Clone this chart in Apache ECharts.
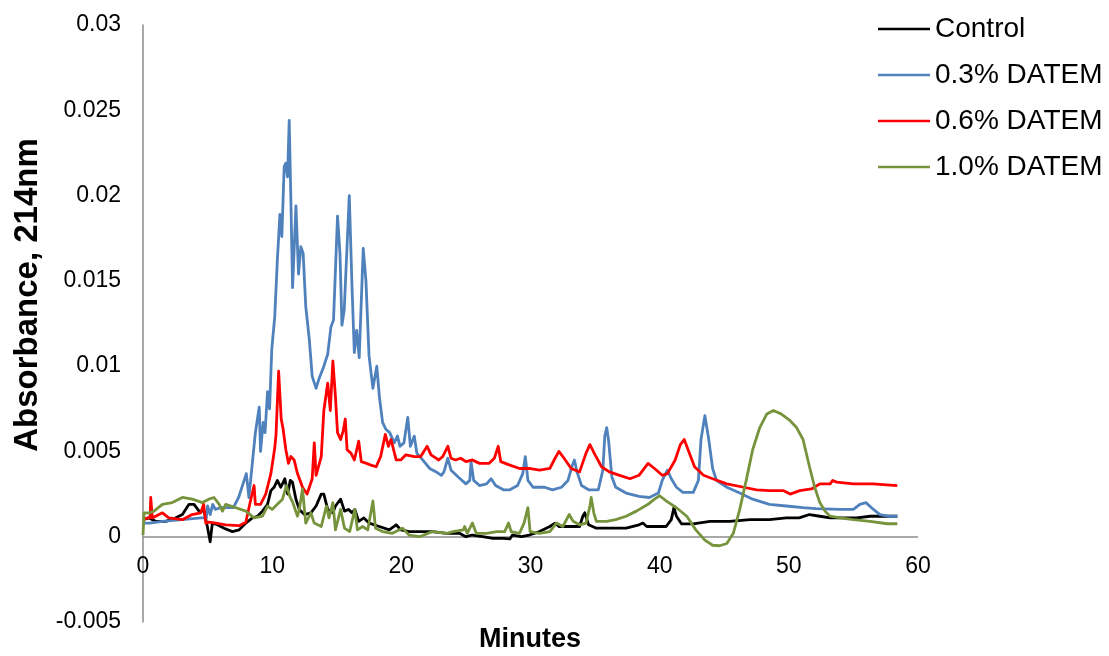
<!DOCTYPE html>
<html>
<head>
<meta charset="utf-8">
<script src="https://cdn.jsdelivr.net/npm/echarts@6/dist/echarts.min.js"></script>
<style>
  html, body { margin: 0; padding: 0; background: #fff; }
  #chart { width: 1109px; height: 656px; }
</style>
</head>
<body>
<div id="chart"></div>
<script>
// series names (legend order)
const seriesNames = ['Control', '0.3% DATEM', '0.6% DATEM', '1.0% DATEM'];
const seriesColors = ['#000000', '#4F81BD', '#FF0000', '#77933C'];

// [minutes, absorbance]
const control = [
    [0, 0.0010], [0.47, 0.0011], [0.98, 0.0009], [1.76, 0.0009], [2.5, 0.0011], [3.05, 0.0013], [3.56, 0.0019],
    [3.95, 0.0019], [4.34, 0.0015], [4.73, 0.0015], [4.98, 0.0006], [5.2, -0.0003], [5.37, 0.0008], [5.76, 0.0007],
    [6.28, 0.0005], [6.92, 0.0003], [7.44, 0.0004], [7.96, 0.0008], [8.47, 0.0011], [8.86, 0.0012], [9.25, 0.0015],
    [9.64, 0.0019], [9.9, 0.0027], [10.15, 0.0029], [10.4, 0.0033], [10.67, 0.0029], [10.98, 0.0034], [11.2, 0.0025],
    [11.4, 0.0033], [11.57, 0.0032], [11.84, 0.0022], [12.1, 0.0016], [12.5, 0.0013], [13.0, 0.0014], [13.4, 0.0018],
    [13.8, 0.0025], [14.0, 0.0025], [14.3, 0.0016], [14.7, 0.0014], [14.9, 0.0018], [15.3, 0.0022], [15.6, 0.0015],
    [15.9, 0.0016], [16.2, 0.0014], [16.4, 0.0016], [16.7, 0.0009], [17.1, 0.0011], [17.5, 0.0008], [18.3, 0.0006],
    [19.07, 0.0004], [19.6, 0.0007], [19.96, 0.0004], [20.6, 0.0003], [21.4, 0.0003], [22.4, 0.0003], [23.5, 0.0002],
    [24.5, 0.0002], [25.0, 0.0], [25.5, 0.0001], [26.3, 0.0], [27.1, -0.0001], [27.9, -0.0001], [28.4, -0.00013],
    [28.6, 0.0001], [29.3, 0.0], [29.9, 0.0001], [30.7, 0.0003], [31.5, 0.0006], [31.9, 0.0008], [32.2, 0.0006],
    [33.0, 0.0006], [33.8, 0.0006], [34.05, 0.0012], [34.2, 0.0014], [34.5, 0.0007], [35.1, 0.0005], [36.1, 0.0005],
    [37.4, 0.0005], [38.4, 0.0007], [38.7, 0.0008], [39.0, 0.0006], [39.7, 0.0006], [40.5, 0.0006], [40.9, 0.001],
    [41.1, 0.0017], [41.3, 0.0012], [41.7, 0.00075], [42.6, 0.00075], [43.9, 0.0009], [45.4, 0.0009], [47.0, 0.001],
    [48.5, 0.001], [49.8, 0.0011], [50.8, 0.0011], [51.6, 0.0013], [52.4, 0.0012], [53.2, 0.0011], [55.25, 0.0011],
    [56.3, 0.0012], [58.4, 0.0012]
];

const datem03 = [
    [0, 0.0008], [0.5, 0.0008], [1.5, 0.0009], [3.0, 0.001], [4.5, 0.0011], [4.9, 0.0011], [5.0, 0.0018], [5.2, 0.0013],
    [5.4, 0.0019], [5.6, 0.0016], [6.0, 0.0017], [7.0, 0.0017], [7.4, 0.0023], [8.0, 0.0037], [8.2, 0.0023], [8.7, 0.0061],
    [9.0, 0.0076], [9.1, 0.005], [9.3, 0.0067], [9.45, 0.0061], [9.64, 0.0085], [9.8, 0.0075], [9.97, 0.011], [10.2, 0.0129],
    [10.4, 0.0162], [10.6, 0.0189], [10.75, 0.0176], [10.93, 0.0217], [11.06, 0.0219], [11.19, 0.0211], [11.32, 0.0244],
    [11.45, 0.0197], [11.58, 0.0146], [11.7, 0.0168], [11.84, 0.0194], [12.04, 0.0154], [12.22, 0.017], [12.4, 0.0166],
    [12.6, 0.0135], [12.87, 0.0116], [13.1, 0.0094], [13.4, 0.0087], [13.6, 0.0092], [14.0, 0.0100], [14.3, 0.0107],
    [14.55, 0.0123], [14.75, 0.0127], [15.06, 0.0188], [15.25, 0.0166], [15.4, 0.0124], [15.58, 0.0133], [15.97, 0.0200],
    [16.18, 0.0147], [16.36, 0.0108], [16.54, 0.0121], [16.74, 0.0105], [17.05, 0.0169], [17.26, 0.015], [17.5, 0.0106],
    [17.8, 0.0087], [18.1, 0.0100], [18.3, 0.0082], [18.55, 0.0067], [18.8, 0.0063], [19.1, 0.0061], [19.45, 0.0055],
    [19.7, 0.0059], [19.9, 0.0053], [20.2, 0.0055], [20.5, 0.0070], [20.7, 0.0053], [21.0, 0.0059], [21.2, 0.0049],
    [21.65, 0.0045], [22.2, 0.0040], [22.7, 0.0038], [23.1, 0.0036], [23.3, 0.0038], [23.6, 0.0046], [23.85, 0.0039],
    [24.4, 0.0035], [25.0, 0.0031], [25.3, 0.0033], [25.4, 0.0044], [25.6, 0.0033], [26.05, 0.0030], [26.6, 0.0031],
    [26.95, 0.0034], [27.3, 0.0030], [27.9, 0.00275], [28.4, 0.00275], [29.0, 0.0030], [29.4, 0.0037], [29.6, 0.0047],
    [29.8, 0.0033], [30.2, 0.0029], [31.1, 0.0029], [31.7, 0.00275], [32.4, 0.0029], [32.9, 0.0033], [33.2, 0.0041],
    [33.4, 0.0045], [33.6, 0.0038], [33.95, 0.0030], [34.5, 0.00275], [35.25, 0.00275], [35.6, 0.0039], [35.75, 0.0059],
    [35.9, 0.0064], [36.05, 0.0056], [36.3, 0.0035], [36.6, 0.0029], [37.4, 0.00256], [38.4, 0.00236], [39.2, 0.0023],
    [39.9, 0.00256], [40.2, 0.0033], [40.6, 0.0039], [40.9, 0.0034], [41.3, 0.0029], [41.8, 0.0026], [42.6, 0.0026],
    [43.0, 0.0033], [43.2, 0.0057], [43.5, 0.0071], [43.8, 0.0057], [44.1, 0.0040], [44.4, 0.0033], [45.2, 0.0029],
    [46.2, 0.00256], [47.2, 0.0022], [48.5, 0.0019], [49.8, 0.0018], [51.1, 0.0017], [52.1, 0.00165], [53.95, 0.0016],
    [55.0, 0.0016], [55.5, 0.0019], [55.97, 0.0020], [56.4, 0.0017], [57.05, 0.0013], [57.7, 0.0012], [58.4, 0.0012]
];

const datem06 = [
    [0, 0.0010], [0.33, 0.0011], [0.55, 0.0011], [0.6, 0.0023], [0.72, 0.0011], [1.24, 0.0013], [1.5, 0.0014], [2.0, 0.0011],
    [3.05, 0.0010], [3.8, 0.0013], [4.47, 0.0014], [4.7, 0.0019], [4.86, 0.0008], [5.1, 0.00085], [5.63, 0.0008],
    [6.4, 0.0007], [7.44, 0.00065], [7.96, 0.00085], [8.35, 0.0022], [8.6, 0.0030], [8.7, 0.0019], [9.1, 0.0019],
    [9.5, 0.0025], [9.9, 0.0037], [10.2, 0.0052], [10.3, 0.006], [10.5, 0.0097], [10.7, 0.0069], [10.85, 0.0063],
    [11.06, 0.0051], [11.26, 0.0043], [11.45, 0.0047], [11.7, 0.0045], [11.96, 0.0037], [12.35, 0.0029], [12.7, 0.0025],
    [13.1, 0.0034], [13.26, 0.0055], [13.4, 0.0036], [13.8, 0.0047], [14.0, 0.0074], [14.3, 0.0090], [14.5, 0.0074],
    [14.7, 0.0103], [14.9, 0.0082], [15.06, 0.0061], [15.3, 0.0057], [15.5, 0.0062], [15.66, 0.0069], [15.8, 0.0051],
    [16.1, 0.0049], [16.36, 0.0045], [16.7, 0.0056], [16.9, 0.0044], [17.3, 0.0043], [17.65, 0.0042], [18.05, 0.0041],
    [18.4, 0.0047], [18.76, 0.0060], [19.0, 0.0053], [19.2, 0.0057], [19.6, 0.0045], [19.96, 0.0045], [20.35, 0.0048],
    [21.0, 0.0047], [21.5, 0.0047], [22.0, 0.0053], [22.3, 0.0048], [22.9, 0.0045], [23.2, 0.0047], [23.6, 0.0053],
    [23.85, 0.0046], [24.2, 0.0045], [24.6, 0.0046], [25.0, 0.0044], [25.5, 0.0045], [26.05, 0.0043], [26.8, 0.0043],
    [27.2, 0.0046], [27.5, 0.0053], [27.7, 0.0044], [28.4, 0.0042], [29.15, 0.0040], [29.9, 0.0040], [30.7, 0.0039],
    [31.5, 0.0040], [31.9, 0.0046], [32.2, 0.0050], [32.6, 0.0046], [33.15, 0.0040], [33.8, 0.0038], [34.3, 0.0049],
    [34.6, 0.0054], [35.0, 0.0048], [35.5, 0.0041], [36.1, 0.0038], [36.9, 0.0036], [37.7, 0.0034], [38.4, 0.0036],
    [39.1, 0.0043], [39.6, 0.0040], [40.2, 0.0036], [40.6, 0.0037], [41.2, 0.0045], [41.6, 0.0054], [41.9, 0.0057],
    [42.2, 0.0051], [42.7, 0.0041], [43.4, 0.0036], [44.1, 0.0034], [45.2, 0.0031], [46.5, 0.0029], [47.5, 0.00275],
    [48.5, 0.0027], [49.6, 0.0027], [50.1, 0.0025], [50.85, 0.0027], [51.75, 0.0028], [52.4, 0.0031], [53.2, 0.0031],
    [53.4, 0.0033], [53.7, 0.0032], [55.0, 0.0031], [56.5, 0.0031], [58.4, 0.0030]
];

const datem10 = [
    [0, 0.0001], [0.08, 0.0014], [0.47, 0.0014], [0.85, 0.0015], [1.5, 0.0019], [2.27, 0.0020], [3.05, 0.0023],
    [3.82, 0.0022], [4.6, 0.0020], [5.1, 0.0022], [5.5, 0.0023], [5.9, 0.0019], [6.15, 0.0015], [6.4, 0.0019],
    [7.2, 0.0017], [7.96, 0.0015], [8.6, 0.0011], [9.25, 0.0012], [9.64, 0.0018], [10.0, 0.0016], [10.4, 0.0019],
    [10.8, 0.0022], [11.1, 0.0030], [11.4, 0.0023], [11.6, 0.0020], [11.96, 0.0012], [12.1, 0.0016], [12.35, 0.0028],
    [12.6, 0.0008], [13.0, 0.0014], [13.26, 0.0008], [13.8, 0.0006], [14.2, 0.0018], [14.4, 0.0011], [14.7, 0.0020],
    [14.9, 0.0004], [15.3, 0.0016], [15.6, 0.0005], [16.0, 0.0003], [16.4, 0.0016], [16.6, 0.0004], [17.0, 0.0006],
    [17.4, 0.0004], [17.8, 0.0021], [18.0, 0.0005], [18.55, 0.0003], [19.3, 0.0002], [20.1, 0.0005], [20.6, 0.0001],
    [21.4, 0.0], [22.4, 0.0003], [23.5, 0.0002], [24.0, 0.0003], [24.8, 0.0004], [24.9, 0.0006], [25.1, 0.0002],
    [25.5, 0.0008], [25.8, 0.0002], [26.6, 0.0002], [27.4, 0.0003], [28.0, 0.0003], [28.3, 0.0008], [28.5, 0.0003],
    [29.15, 0.0002], [29.5, 0.0008], [29.8, 0.0017], [29.97, 0.0003], [30.7, 0.0002], [31.5, 0.0003], [32.0, 0.0008],
    [32.5, 0.0006], [33.0, 0.0013], [33.3, 0.0009], [33.8, 0.0007], [34.3, 0.0008], [34.6, 0.0018], [34.7, 0.0023],
    [34.9, 0.0014], [35.1, 0.0009], [35.9, 0.0009], [36.6, 0.001], [37.4, 0.0012], [38.2, 0.0015], [39.1, 0.0019],
    [39.6, 0.0022], [40.0, 0.0024], [40.5, 0.0021], [41.3, 0.0017], [42.1, 0.0012], [42.8, 0.0004], [43.5, -0.0002],
    [44.1, -0.0005], [44.65, -0.00053], [45.2, -0.0004], [45.7, 0.0002], [46.2, 0.0016], [46.7, 0.0033], [47.2, 0.0051],
    [47.75, 0.0064], [48.3, 0.0072], [48.8, 0.0074], [49.4, 0.0072], [50.1, 0.0068], [50.6, 0.0064], [51.1, 0.0057],
    [51.6, 0.0041], [52.0, 0.0029], [52.4, 0.002], [52.8, 0.0015], [53.2, 0.0012], [53.95, 0.0011], [55.0, 0.001],
    [56.3, 0.0009], [57.6, 0.00076], [58.4, 0.00076]
];

const seriesData = [control, datem03, datem06, datem10];

const chart = echarts.init(document.getElementById('chart'));

// grid edges, so the x labels can be pulled up under y = 0
const gridTop = 25;
const gridBottom = 34;
const plotHeight = 656 - gridTop - gridBottom;
const yMin = -0.005;
const yMax = 0.03;
const xMin = 0;
const xMax = 60;
const zeroOffset = plotHeight * (0 - yMin) / (yMax - yMin);

const axisGray = '#8c8c8c';

const option = {
    animation: false,
    backgroundColor: '#fff',
    textStyle: { fontFamily: 'Liberation Sans, Arial, sans-serif' },
    grid: {
        left: 143,
        right: 191,
        top: gridTop,
        bottom: gridBottom,
        containLabel: false,
        outerBoundsMode: 'none'
    },
    legend: {
        orient: 'vertical',
        left: 878,
        top: 15,
        padding: 0,
        icon: 'rect',
        itemWidth: 52,
        itemHeight: 2.5,
        itemGap: 18,
        itemTextGap: 5,
        data: seriesNames,
        textStyle: {
            color: '#000',
            fontSize: 28,
            lineHeight: 26,
            fontFamily: 'Liberation Sans'
        }
    },
    xAxis: {
        type: 'value',
        min: xMin,
        max: xMax,
        interval: 10,
        offset: -zeroOffset,
        axisLine: { show: false, onZero: false },
        axisTick: { show: false },
        splitLine: { show: false },
        axisLabel: {
            color: '#000',
            fontSize: 23,
            margin: 18,
            fontFamily: 'Liberation Sans'
        }
    },
    yAxis: {
        type: 'value',
        min: yMin,
        max: yMax,
        interval: 0.005,
        axisLine: { show: true, lineStyle: { color: axisGray, width: 1.5 } },
        axisTick: { show: false },
        splitLine: { show: false },
        axisLabel: {
            color: '#000',
            fontSize: 23,
            margin: 22,
            fontFamily: 'Liberation Sans',
            formatter: (v) => String(+v.toFixed(3))
        }
    },
    graphic: [
        {
            id: 'xTitle',
            type: 'text',
            x: 530,
            y: 640,
            style: {
                text: 'Minutes',
                fontSize: 27,
                fontWeight: 'bold',
                fontFamily: 'Liberation Sans',
                fill: '#000',
                align: 'center',
                verticalAlign: 'middle'
            }
        },
        {
            id: 'yTitle',
            type: 'text',
            x: 28,
            y: 295,
            rotation: Math.PI / 2,
            style: {
                text: 'Absorbance, 214nm',
                fontSize: 33,
                fontWeight: 'bold',
                fontFamily: 'Liberation Sans',
                fill: '#000',
                align: 'center',
                verticalAlign: 'middle'
            }
        }
    ],
    series: seriesNames.map((name, i) => {
        const s = {
            name: name,
            type: 'line',
            data: seriesData[i],
            symbol: 'none',
            showSymbol: false,
            smooth: false,
            color: seriesColors[i],
            lineStyle: { color: seriesColors[i], width: 2.8, join: 'round' },
            z: 2 + i
        };
        if (i === 0) {
            // the horizontal axis line along y = 0
            s.markLine = {
                silent: true,
                symbol: 'none',
                z: 1,
                label: { show: false },
                lineStyle: { color: axisGray, type: 'solid', width: 1.5 },
                data: [{ yAxis: 0 }]
            };
        }
        return s;
    })
};

chart.setOption(option);
</script>
</body>
</html>
